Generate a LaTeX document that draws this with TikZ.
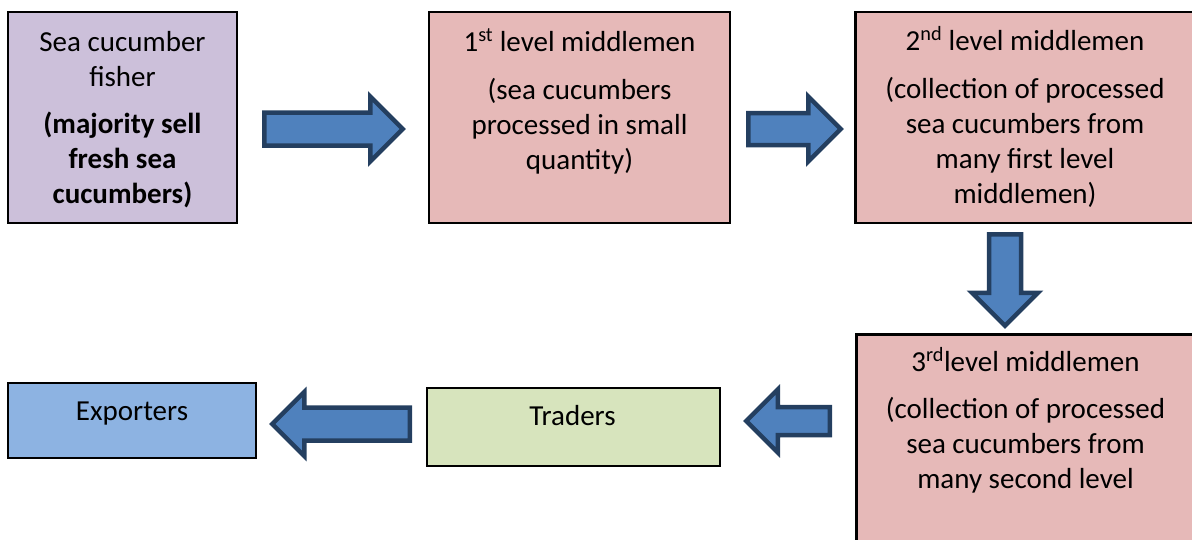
\documentclass[tikz,border=0pt]{standalone}
\usepackage{fontspec}
\setmainfont{Carlito}
\usetikzlibrary{shapes.arrows}
\definecolor{fisherfill}{HTML}{CCC0DA}
\definecolor{midfill}{HTML}{E6B9B8}
\definecolor{expfill}{HTML}{8DB3E2}
\definecolor{tradefill}{HTML}{D7E4BD}
\definecolor{arrowfill}{HTML}{4F81BD}
\definecolor{arrowline}{HTML}{243F60}
\begin{document}
\begin{tikzpicture}[x=1pt,y=-1pt,
  box/.style={draw=black, line width=2.5pt, inner sep=0pt},
  lbl/.style={font=\fontsize{29}{35}\selectfont, align=center, anchor=base, inner sep=0pt},
  barrow/.style={shape=single arrow, draw=arrowline, fill=arrowfill, line width=4.5pt,
    line join=miter, outer sep=0pt, anchor=tail, single arrow tip angle=90, single arrow head indent=0pt}]
\useasboundingbox (0,0) rectangle (1192,539);
\clip (0,0) rectangle (1192,539);
% boxes
\node[box, fill=fisherfill, minimum width=229pt, minimum height=211pt] (fisher) at (122.5,117.5) {};
\node[box, fill=midfill, minimum width=301pt, minimum height=211pt] (mid1) at (579.5,117.5) {};
\node[box, fill=midfill, anchor=west, minimum width=360pt, minimum height=211pt] (mid2) at (854.25,117.5) {};
\node[box, fill=midfill, anchor=north west, minimum width=360pt, minimum height=240pt] (mid3) at (855.25,333.25) {};
\node[box, fill=expfill, minimum width=248pt, minimum height=75pt] (exp) at (132,420.5) {};
\node[box, fill=tradefill, minimum width=293pt, minimum height=78pt] (trade) at (573.5,427) {};
% texts (base = last line baseline)
\node[lbl] (tfisher) at (122.5,203) {Sea cucumber\\ fisher\\[12pt]\bfseries (majority sell\\ \bfseries fresh sea\\ \bfseries cucumbers)};
\node[lbl] (tmid1) at (579.5,169) {1\textsuperscript{st} level middlemen\\[13pt] (sea cucumbers\\ processed in small\\ quantity)};
\node[lbl] (tmid2) at (1025,203) {2\textsuperscript{nd} level middlemen\\[13pt] (collection of processed\\ sea cucumbers from\\ many first level\\ middlemen)};
\node[lbl] (tmid3) at (1025.5,488) {3\textsuperscript{rd}level middlemen\\[12pt] (collection of processed\\ sea cucumbers from\\ many second level};
\node[lbl] (texp) at (132,420) {Exporters};
\node[lbl] (ttrade) at (572.5,425) {Traders};
% block arrows
\node[barrow, minimum height=138.5pt, inner sep=14.25pt, single arrow head extend=16pt] (a1) at (264.25,129) {};
\node[barrow, minimum height=92.5pt, inner sep=13.75pt, single arrow head extend=16.5pt] (a2) at (748.25,129) {};
\node[barrow, minimum height=91.5pt, inner sep=13.75pt, single arrow head extend=17pt, shape border rotate=270] (a3) at (1005,234.25) {};
\node[barrow, minimum height=83.5pt, inner sep=11.75pt, single arrow head extend=17.5pt, shape border rotate=180] (a4) at (829.75,421) {};
\node[barrow, minimum height=137.5pt, inner sep=14.25pt, single arrow head extend=15.5pt, shape border rotate=180] (a5) at (409.75,424) {};
\end{tikzpicture}
\end{document}
